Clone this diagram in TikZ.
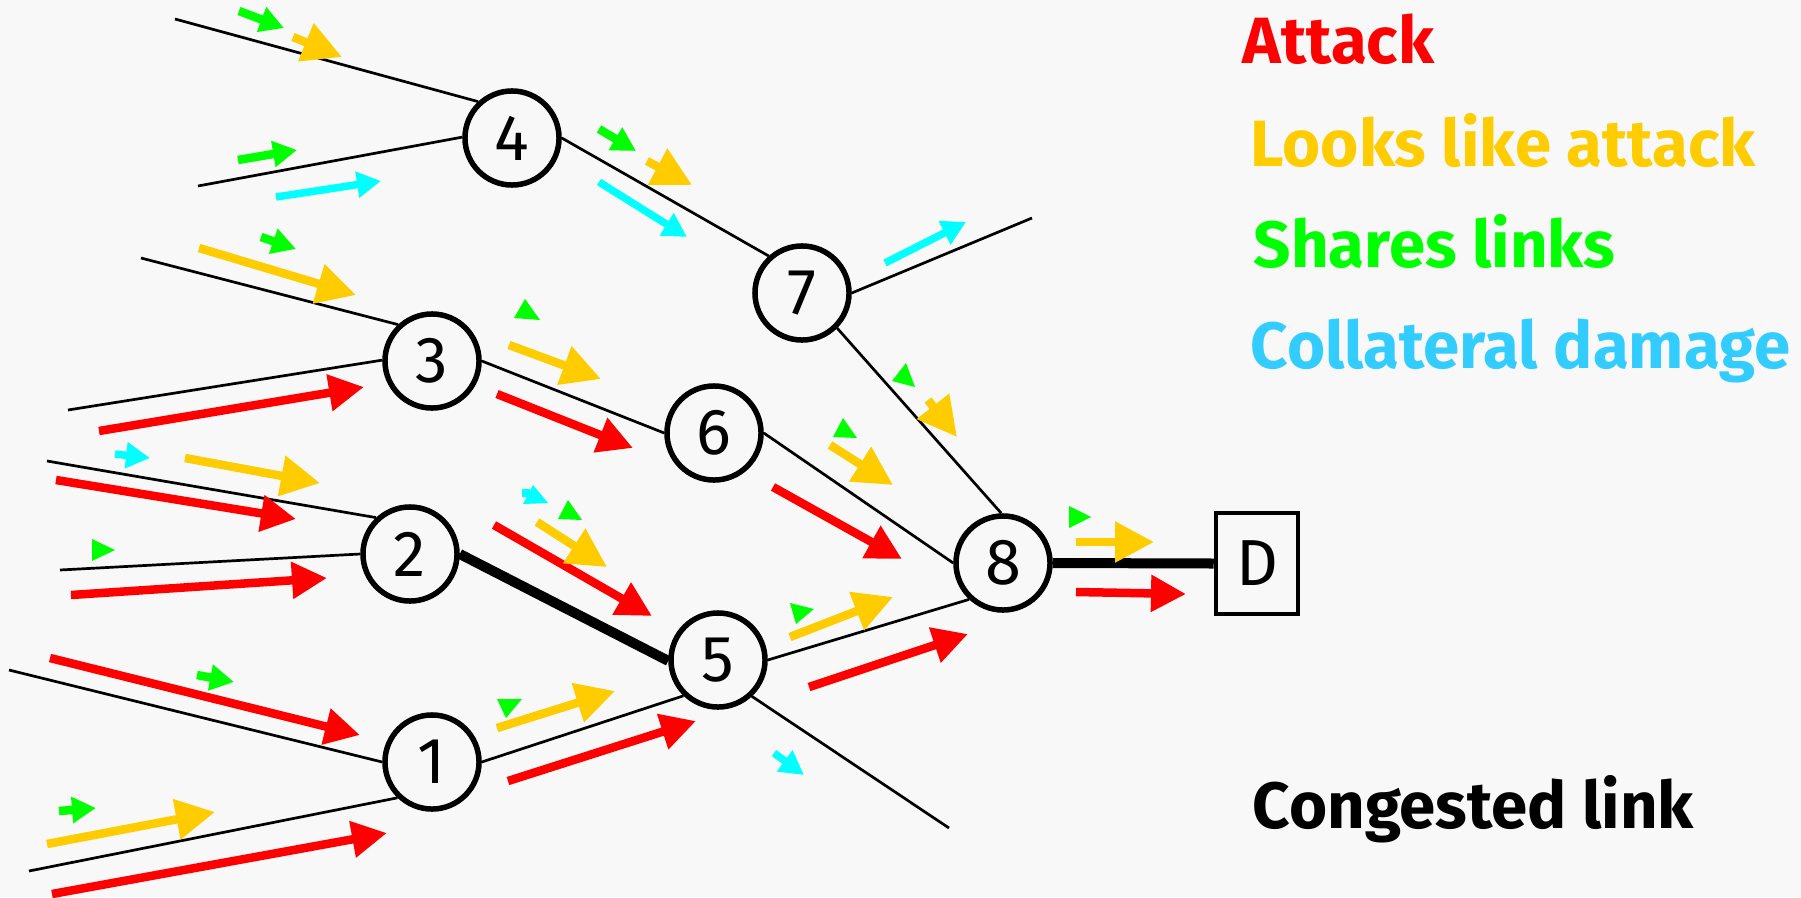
\documentclass[tikz,border=0pt]{standalone}
\usepackage{fontspec}
\setmainfont{Fira Sans}
\usetikzlibrary{arrows.meta}
\definecolor{bg}{HTML}{F8F8F8}
\definecolor{cRed}{HTML}{FF0000}
\definecolor{cOrg}{HTML}{FFCC00}
\definecolor{cGrn}{HTML}{00FF00}
\definecolor{cCyn}{HTML}{00FFFF}
\definecolor{cLeg}{HTML}{33CCFF}
\begin{document}
\begin{tikzpicture}[x=0.01cm,y=-0.01cm,
  router/.style={circle,draw,line width=0.055cm,minimum size=0.94cm,inner sep=0pt,fill=bg,font=\fontsize{18.5}{19}\selectfont},
  dest/.style={rectangle,draw,line width=0.045cm,minimum width=0.82cm,minimum height=1.01cm,inner sep=0pt,fill=bg,font=\fontsize{18.5}{19}\selectfont},
  link/.style={line width=0.027cm},
  heavy/.style={line width=0.1cm},
  legend/.style={anchor=base west,inner sep=0pt,font=\fontsize{18.6}{20}\selectfont\bfseries},
  atk/.style={draw=cRed,line width=0.085cm,-{Triangle[length=0.35cm,width=0.35cm]}},
  lla/.style={draw=cOrg,line width=0.085cm,-{Triangle[length=0.39cm,width=0.39cm]}},
  shr/.style={draw=cGrn,line width=0.085cm,-{Triangle[length=0.24cm,width=0.25cm]}},
  col/.style={draw=cCyn,line width=0.075cm,-{Triangle[length=0.24cm,width=0.25cm]}},
  shrtri/.style={fill=cGrn},
  coltri/.style={fill=cCyn}]
\fill[bg] (0,0) rectangle (1801,897);
\useasboundingbox (0,0) rectangle (1801,897);

% routers
\node[router] (n4) at (512,138) {4};
\node[router] (n7) at (802,293) {7};
\node[router] (n3) at (432,361) {3};
\node[router] (n6) at (714,433) {6};
\node[router] (n2) at (410,554) {2};
\node[router] (n8) at (1003,563) {8};
\node[router] (n5) at (718,660) {5};
\node[router] (n1) at (432,762) {1};
\node[dest] (D) at (1257,563.5) {D};

% free ends
\coordinate (e4a) at (175,19);
\coordinate (e4b) at (198,186);
\coordinate (e3a) at (141,258);
\coordinate (e3b) at (68,410);
\coordinate (e2a) at (47,461);
\coordinate (e2b) at (60,570);
\coordinate (e1a) at (9,670);
\coordinate (e1b) at (29,871);
\coordinate (e7) at (1032,218);
\coordinate (e5) at (949,828);

% links
\draw[link] (e4a) -- (n4.133);
\draw[link] (e4b) -- (n4.179);
\draw[link] (n4.0) -- (n7.132);
\draw[link] (n7.0) -- (e7);
\draw[link] (n7.-45) -- (n8.92);
\draw[link] (e3a) -- (n3.133);
\draw[link] (e3b) -- (n3.179);
\draw[link] (n3.0) -- (n6.180);
\draw[link] (n6.0) -- (n8.180);
\draw[link] (e2a) -- (n2.133);
\draw[link] (e2b) -- (n2.180);
\draw[heavy] (n2.0) -- (n5.181);
\draw[link] (e1a) -- (n1.180);
\draw[link] (e1b) -- (n1.226);
\draw[link] (n1.0) -- (n5.226);
\draw[link] (n5.0) -- (n8.227);
\draw[link] (n5.-47) -- (e5);
\draw[heavy] (n8.0) -- (D.west);

% attack flows
\draw[atk] (99,431) -- (364,387);
\draw[atk] (56,480) -- (296,519);
\draw[atk] (71,595) -- (327,578);
\draw[atk] (50,658) -- (360,735);
\draw[atk] (52,894) -- (387,833);
\draw[atk] (497,394) -- (633,448);
\draw[atk] (494,525) -- (652,616);
\draw[atk] (508,781) -- (696,721);
\draw[atk] (809,687) -- (968,634);
\draw[atk] (773,487) -- (902,559);
\draw[atk] (1076,592) -- (1186,594);

% looks like attack
\draw[lla] (293,37) -- (342,57);
\draw[lla] (199,248) -- (356,295);
\draw[lla] (185,458) -- (320,483);
\draw[lla] (47,844) -- (215,812);
\draw[lla] (647,161) -- (692,185);
\draw[lla] (509,345) -- (601,379);
\draw[lla] (537,522) -- (607,567);
\draw[lla] (497,728) -- (615,691);
\draw[lla] (790,637) -- (893,597);
\draw[lla] (830,445) -- (893,485);
\draw[lla] (928,400) -- (957,437);
\draw[lla] (1076,542) -- (1154,542);

% shares links
\draw[shr] (239,11) -- (284,28);
\draw[shr] (238,160) -- (297,150);
\draw[shr] (599,129) -- (636,151);
\draw[shr] (261,237) -- (296,249);
\draw[shr] (197,675) -- (234,682);
\draw[shr] (59,811) -- (96,808);
\fill[shrtri] (525,299) -- (514,318) -- (540,320) -- cycle;
\fill[shrtri] (568,500) -- (558,519) -- (582,520) -- cycle;
\fill[shrtri] (497,699) -- (522,699) -- (506,718) -- cycle;
\fill[shrtri] (790,603) -- (814,609) -- (796,624) -- cycle;
\fill[shrtri] (906,363) -- (892,381) -- (915,387) -- cycle;
\fill[shrtri] (843,418) -- (833,437) -- (857,438) -- cycle;
\fill[shrtri] (1069,506) -- (1069,528) -- (1091,517) -- cycle;
\fill[shrtri] (92,539) -- (92,561) -- (115,550) -- cycle;

% collateral damage
\draw[col] (276,197) -- (381,181);
\draw[col] (599,182) -- (687,237);
\draw[col] (885,263) -- (966,222);
\draw[col] (115,454) -- (150,458);
\draw[col] (774,753) -- (804,775);
\fill[coltri] (533,485) -- (548,503) -- (523,504) -- cycle;
\fill[coltri] (522,489) rectangle (530,497);

% legend
\node[legend,text=cRed] (lg1) at (1242,63) {Attack};
\node[legend,text=cOrg] (lg2) at (1250,166) {Looks like attack};
\node[legend,text=cGrn] (lg3) at (1253,267) {Shares links};
\node[legend,text=cLeg] (lg4) at (1250,368) {Collateral damage};
\node[legend,text=black] (lg5) at (1252,828) {Congested link};
\end{tikzpicture}
\end{document}
